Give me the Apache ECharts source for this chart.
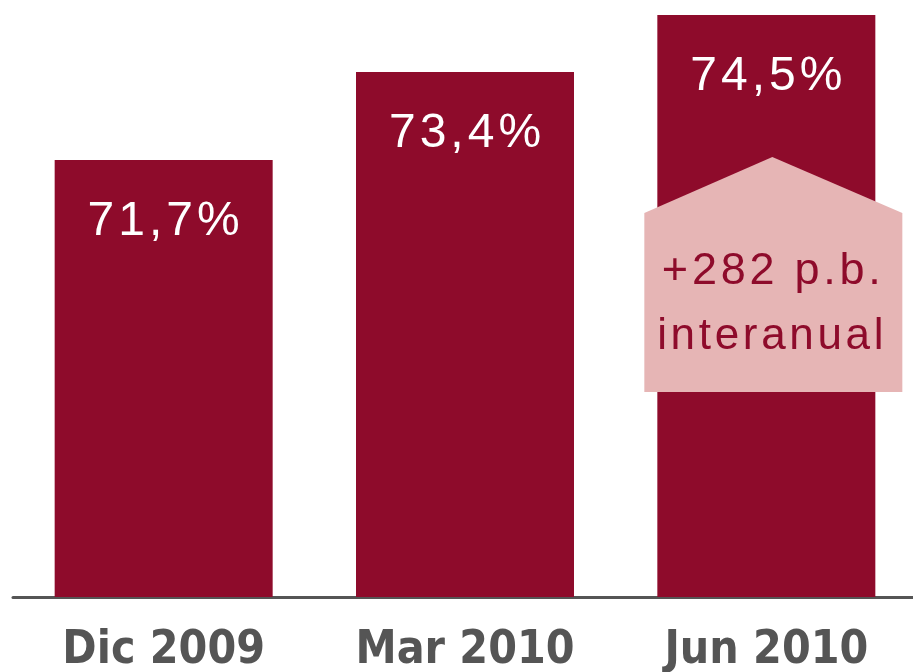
<!DOCTYPE html>
<html>
<head>
<meta charset="utf-8">
<script src="https://cdn.jsdelivr.net/npm/echarts@6/dist/echarts.min.js"></script>
<style>
  html, body { margin: 0; padding: 0; background: #fff; }
  #main { width: 913px; height: 672px; }
</style>
</head>
<body>
<div id="main"></div>
<script>
var categories = ['Dic 2009', 'Mar 2010', 'Jun 2010'];
var values = [71.7, 73.4, 74.5];
var valueLabels = ['71,7%', '73,4%', '74,5%'];
var noteLines = ['+282 p.b.', 'interanual'];

var barColor = '#8E0B2B';
var pink = '#E6B5B5';

// espacio fino entre letras, como en el original
function spaced(s) {
  return s.split('').join('\u200A');
}

var dom = document.getElementById('main');
var myChart = echarts.init(dom, null, { renderer: 'canvas' });

var option = {
  animation: false,
  grid: { left: 13, right: -4, top: 15, bottom: 75, outerBoundsMode: 'none', containLabel: false },
  xAxis: {
    type: 'category',
    data: categories,
    axisTick: { show: false },
    axisLine: { lineStyle: { color: '#555555', width: 3 } },
    axisLabel: {
      interval: 0,
      hideOverlap: false,
      margin: 31,
      fontFamily: '"DejaVu Sans Condensed", sans-serif',
      fontWeight: 'bold',
      fontSize: 46,
      color: '#555555'
    }
  },
  yAxis: {
    type: 'value',
    min: 63.26,
    max: 74.5,
    show: false,
    splitLine: { show: false }
  },
  series: [{
    type: 'bar',
    data: values,
    barWidth: 218,
    itemStyle: { color: barColor },
    label: {
      show: true,
      position: 'insideTop',
      distance: 38,
      color: '#fff',
      fontFamily: 'Liberation Sans, Arial, sans-serif',
      fontSize: 48,
      formatter: function (p) { return spaced(valueLabels[p.dataIndex]); }
    }
  }]
};

myChart.setOption(option);

// caja de variación interanual sobre la barra de Jun 2010
var cx = myChart.convertToPixel({ xAxisIndex: 0 }, categories[2]);
var w = 258;
var x0 = cx - 122, x1 = x0 + w;
myChart.setOption({
  graphic: [
    {
      type: 'polygon',
      z: 100,
      shape: { points: [[x0, 213], [cx + 6, 157], [x1, 213], [x1, 392], [x0, 392]] },
      style: { fill: pink }
    },
    {
      type: 'text',
      z: 101,
      x: (x0 + x1) / 2 - 2, y: 272,
      style: {
        text: spaced(noteLines[0]),
        fill: barColor,
        font: '45px "Liberation Sans", Arial, sans-serif',
        align: 'center', verticalAlign: 'middle'
      }
    },
    {
      type: 'text',
      z: 101,
      x: (x0 + x1) / 2 - 3, y: 337,
      style: {
        text: spaced(noteLines[1]),
        fill: barColor,
        font: '44px "Liberation Sans", Arial, sans-serif',
        align: 'center', verticalAlign: 'middle'
      }
    }
  ]
});

window.addEventListener('resize', function () { myChart.resize(); });
</script>
</body>
</html>
